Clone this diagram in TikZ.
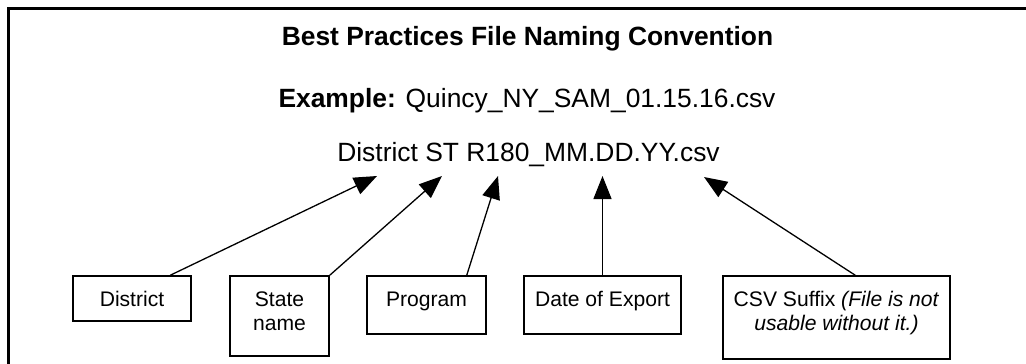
\documentclass[tikz,border=0pt]{standalone}
\usepackage{fontspec}
\setmainfont{Liberation Sans}
\usetikzlibrary{arrows.meta}
\begin{document}
\begin{tikzpicture}[x=1pt,y=-1pt,
  box/.style={draw=black, line width=1.5pt, inner sep=0pt, rectangle},
  boxtext/.style={anchor=base, inner sep=0pt, align=center, font=\fontsize{21.1}{24}\selectfont},
  bigtext/.style={anchor=base, inner sep=0pt, font=\fontsize{26.4}{30}\selectfont},
  pointer/.style={line width=1.3pt, -{Triangle[length=23pt,width=18pt]}},
  frameline/.style={line width=3pt}]
\useasboundingbox (0,0) rectangle (1026,364);
% outer frame (left and top edges)
\draw[frameline] (8.5,364) -- (8.5,8.5) -- (1026,8.5);
% headings
\node[bigtext] (title) at (527.5,45.7) {\textbf{Best Practices File Naming Convention}};
\node[bigtext] (example) at (527,107.7) {\textbf{Example:} Quincy\_NY\_SAM\_01.15.16.csv};
\node[bigtext] (pattern) at (528.5,161.7) {District ST R180\_MM.DD.YY.csv};
% boxes
\node[box, minimum width=118pt, minimum height=45pt] (dist) at (132,298.5) {};
\node[box, minimum width=99pt, minimum height=80pt] (state) at (279.5,316) {};
\node[box, minimum width=119pt, minimum height=58pt] (prog) at (426.5,305) {};
\node[box, minimum width=157pt, minimum height=58pt] (date) at (602.5,305) {};
\node[box, minimum width=227pt, minimum height=83pt] (csv) at (836.5,317.5) {};
% box texts (two-line texts are anchored at the baseline of their last line)
\node[boxtext] (distT) at (132,306) {District};
\node[boxtext] (stateT) at (279.5,330) {State\\name};
\node[boxtext] (progT) at (426.5,306) {Program};
\node[boxtext] (dateT) at (602.5,306) {Date of Export};
\node[boxtext] (csvT) at (836.5,330) {CSV Suffix \textit{(File is not}\\\textit{usable without it.)}};
% arrow targets
\coordinate (tDist) at (377,176);
\coordinate (tState) at (442,176);
\coordinate (tProg) at (498,176);
\coordinate (tDate) at (602.5,176);
\coordinate (tCsv) at (704,177);
% arrows
\draw[pointer] ([xshift=98pt]dist.north west) -- (tDist);
\draw[pointer] (state.north east) -- (tState);
\draw[pointer] ([xshift=-20pt]prog.north east) -- (tProg);
\draw[pointer] (date.north) -- (tDate);
\draw[pointer] ([xshift=133pt]csv.north west) -- (tCsv);
\end{tikzpicture}
\end{document}
